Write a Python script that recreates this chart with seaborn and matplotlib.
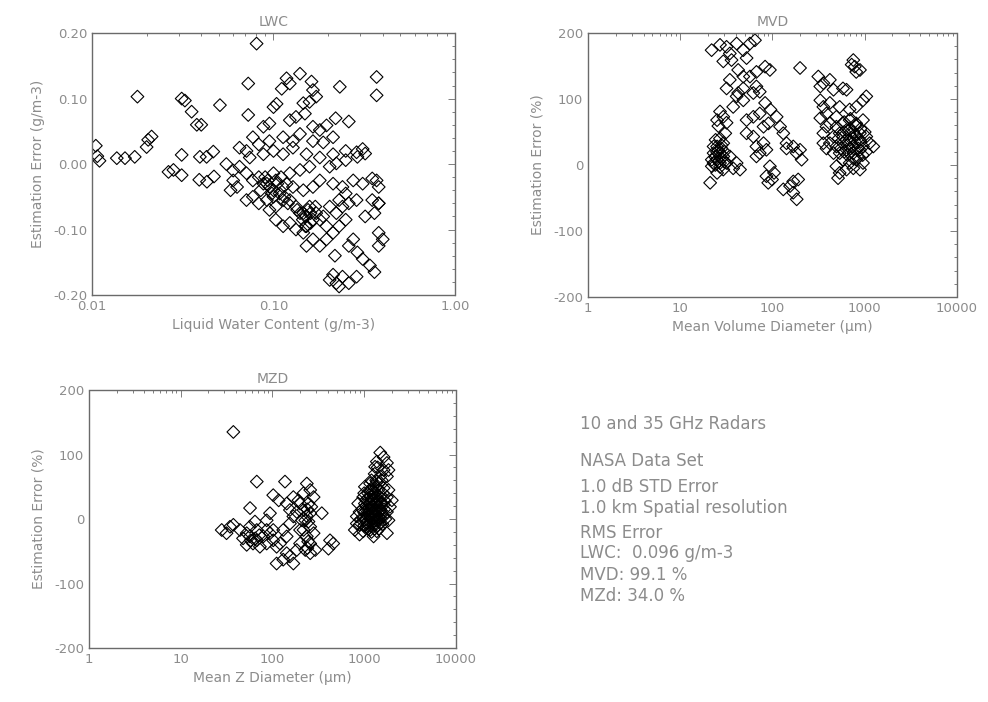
import numpy as np
import pandas as pd
import matplotlib
matplotlib.use("Agg")
import matplotlib.pyplot as plt
import seaborn as sns
from matplotlib.ticker import FixedLocator, AutoMinorLocator, LogLocator, NullFormatter, FuncFormatter

# ---------------- data ----------------
lwc_x = [0.0105, 0.0107, 0.011, 0.0137, 0.0152, 0.0178, 0.0172, 0.020, 0.0213, 0.0204,
         0.0312, 0.0325, 0.0354, 0.0378, 0.040, 0.0507, 0.0726, 0.0726, 0.0807, 0.0312,
         0.0264, 0.0281, 0.0312, 0.0393, 0.0428, 0.0466, 0.039, 0.043, 0.047,
         0.118, 0.140, 0.123, 0.111, 0.100, 0.104, 0.162, 0.165, 0.172, 0.232,
         0.37, 0.37, 0.146, 0.158, 0.095, 0.088, 0.123, 0.133, 0.149, 0.165,
         0.18, 0.196, 0.22, 0.26, 0.077, 0.083, 0.095, 0.113, 0.128, 0.14,
         0.165, 0.188, 0.213, 0.065, 0.071, 0.074, 0.088, 0.10, 0.113, 0.128,
         0.152, 0.18, 0.213, 0.25, 0.287, 0.31,
         0.055, 0.06, 0.065, 0.058, 0.063, 0.06, 0.071, 0.077, 0.083, 0.092,
         0.103, 0.113, 0.10, 0.108, 0.118, 0.10, 0.123, 0.14, 0.158, 0.128,
         0.146, 0.165, 0.18, 0.204, 0.222, 0.25, 0.29, 0.32, 0.213, 0.24,
         0.275, 0.31, 0.35, 0.37, 0.38, 0.25, 0.287, 0.23, 0.35, 0.38,
         0.071, 0.077, 0.083, 0.092, 0.095, 0.103, 0.113, 0.123, 0.133, 0.146,
         0.158, 0.172, 0.18, 0.165, 0.188, 0.204, 0.222, 0.24, 0.26, 0.32,
         0.36, 0.38, 0.103, 0.113, 0.123, 0.133, 0.146, 0.152, 0.196, 0.213,
         0.23, 0.25, 0.165, 0.18, 0.152, 0.196, 0.218, 0.275, 0.26, 0.29,
         0.31, 0.34, 0.36, 0.38, 0.40, 0.38, 0.204, 0.222, 0.24, 0.26,
         0.213, 0.23, 0.287, 0.095, 0.105, 0.098, 0.15, 0.155, 0.145, 0.16,
         0.14, 0.085, 0.09,
         0.093, 0.10, 0.11, 0.115, 0.12, 0.088, 0.135, 0.15, 0.16, 0.17]
lwc_y = [0.028, 0.012, 0.005, 0.009, 0.009, 0.103, 0.011, 0.026, 0.042, 0.037,
         0.100, 0.097, 0.080, 0.060, 0.060, 0.090, 0.123, 0.075, 0.184, 0.014,
         -0.012, -0.009, -0.017, 0.011, 0.011, 0.019, -0.024, -0.027, -0.019,
         0.131, 0.138, 0.123, 0.115, 0.087, 0.092, 0.126, 0.113, 0.103, 0.118,
         0.133, 0.105, 0.093, 0.095, 0.062, 0.057, 0.067, 0.072, 0.077, 0.057,
         0.052, 0.059, 0.070, 0.065, 0.041, 0.030, 0.035, 0.041, 0.035, 0.046,
         0.035, 0.033, 0.041, 0.025, 0.020, 0.010, 0.015, 0.020, 0.015, 0.025,
         0.015, 0.010, 0.015, 0.020, 0.018, 0.023,
         0.000, -0.010, -0.004, -0.040, -0.035, -0.025, -0.014, -0.025, -0.020, -0.030,
         -0.025, -0.035, -0.040, -0.045, -0.030, -0.014, -0.014, -0.009, -0.004, -0.035,
         -0.040, -0.035, -0.025, -0.004, 0.001, 0.006, 0.011, 0.016, -0.030, -0.035,
         -0.025, -0.030, -0.022, -0.025, -0.035, -0.045, -0.055, -0.055, -0.055, -0.060,
         -0.055, -0.050, -0.060, -0.055, -0.070, -0.065, -0.055, -0.055, -0.065, -0.075,
         -0.065, -0.075, -0.085, -0.085, -0.080, -0.065, -0.075, -0.065, -0.060, -0.080,
         -0.075, -0.060, -0.085, -0.095, -0.090, -0.100, -0.105, -0.095, -0.095, -0.105,
         -0.095, -0.085, -0.115, -0.125, -0.125, -0.115, -0.140, -0.115, -0.125, -0.135,
         -0.145, -0.155, -0.165, -0.105, -0.115, -0.125, -0.177, -0.182, -0.172, -0.182,
         -0.169, -0.187, -0.172, -0.035, -0.030, -0.045, -0.080, -0.070, -0.085, -0.090,
         -0.075, -0.040, -0.020,
         -0.025, -0.050, -0.020, -0.050, -0.060, -0.030, -0.070, -0.095, -0.075, -0.065]

mvd_x = [21.9, 27, 31.8, 34.5, 40.9, 48.3, 57, 64.6, 29.3, 36, 52.4, 42.5, 48.3, 57, 67, 67,
         93.8, 83.2, 34.5, 31.8, 40.9, 42.5, 48.3, 62, 72.8, 37.5, 48.3, 27, 25.1, 29.3, 25.9, 31.8,
         30.8, 27, 29.3, 25.1, 23, 27, 29.3, 25.1, 23, 27, 31.8, 22, 25.1, 29.3, 21.1, 34.5,
         40.9, 44.5, 37.5, 28, 24.2, 24, 26, 28, 26, 24, 30,
         22, 27, 30, 25, 23, 28,
         52.4, 62, 72.8, 83.2, 95, 52.4, 62, 80, 90.4, 111, 121, 131, 67, 72.8, 80, 67, 86,
         142, 142, 168, 183, 199, 207, 93.8, 104, 99, 86, 90, 131, 155, 168, 190, 168, 183, 199,
         314, 356, 330, 419, 459, 581, 635, 752, 780, 809, 722, 888, 1040, 958,
         330, 356, 385, 419, 535, 686, 809, 330, 419, 493, 581, 686, 809, 958,
         356, 459, 535, 635, 752, 888, 1040, 419, 493, 581, 686, 809, 958, 1130, 1240,
         356, 385, 535, 635, 752, 888, 1040, 581, 686, 809, 958, 752, 888, 535, 493, 514, 635, 459,
         581, 686, 752, 888, 635, 493, 385,
         520, 600, 700, 800, 900, 550, 650, 750, 850, 950,
         600, 700, 800, 650, 750, 850, 700, 600, 900, 1000]
mvd_y = [174, 182, 179, 169, 184, 174, 184, 189, 157, 159, 162, 144, 134, 134, 141, 119,
         144, 149, 129, 116, 104, 109, 116, 109, 111, 88, 98, 81, 68, 73, 59, 64,
         48, 40, 33, 28, 18, 18, 13, 8, 3, 3, 3, -2, -12, -7, -27, 13,
         3, -7, -5, 25, 38, 12, 5, 10, 22, 0, 20,
         8, -3, 5, 20, 28, 30,
         68, 73, 78, 94, 84, 48, 43, 58, 63, 73, 58, 48, 28, 18, 33, 13, 23,
         33, 25, 28, 18, 23, 8, -2, -12, -22, -17, -27, -37, -32, -25, -22, -42, -52, 147,
         134, 124, 119, 129, 114, 116, 114, 159, 149, 141, 152, 144, 104, 98,
         98, 88, 78, 94, 88, 84, 88, 71, 63, 58, 63, 68, 63, 68,
         48, 43, 48, 53, 50, 48, 43, 33, 28, 33, 38, 33, 28, 33, 28,
         33, 25, 18, 23, 18, 23, 20, 8, 3, 8, 3, -5, -7, -12, -2, -20, -7, 18,
         43, 48, 28, 38, 38, 73, 58,
         40, 50, 55, 45, 35, 25, 30, 40, 25, 15,
         65, 70, 60, 15, 10, 12, 25, 20, 55, 50]

mzd_x = [37.5, 67.5, 137, 102, 117, 57, 94, 86.5, 64.5,
         34.5, 28, 31.6, 37.5, 44.3, 52.4, 47.8, 56.7,
         61.4, 52.4, 67.5, 73, 86.5, 79.5, 94, 102,
         111, 121, 111, 131, 143, 155, 169, 184,
         143, 131, 155, 169, 184, 200, 169, 218, 237,
         258, 281, 247, 218, 258, 228, 258, 218, 237,
         281, 258, 228, 258, 293, 345, 424, 408, 460,
         143, 155, 102, 86.5, 67.5, 56.7, 200, 200,
         210, 247, 265, 192, 65, 72, 58, 240, 245, 235, 240,
         1495, 1627, 1372, 1770, 1316, 1627, 1840, 1495, 1770,
         1372, 1160, 1017, 1200, 1425, 1627, 1840,
         975, 1100, 1265, 1495, 1770, 2000,
         860, 1017, 1160, 1372, 1627, 1910,
         890, 1060, 1265, 1495, 1770,
         830, 975, 1160, 1372, 1627, 1840,
         890, 1060, 1265, 1495,
         975, 1160, 1372, 1770, 890, 1265, 790, 830,
         1265, 1200, 1316, 1100, 1425, 1560, 1060, 1265, 1495,
         1100, 1300, 1200, 1350, 1150, 1250, 1400, 1200, 1300, 1450, 1100, 1000, 1050, 1550, 1350, 1200,
         1050, 1150, 1250, 1350, 1450, 1100, 1200, 1300, 1400, 1500,
         1050, 1150, 1250, 1350, 1450, 1000, 1100, 1200, 1300, 1400,
         1150, 1250, 1350, 1450, 1300, 1400, 1550, 1600, 1650, 1700,
         950, 920, 1000, 1080, 1180, 1280, 1380, 1480, 1580, 1680]
mzd_y = [135, 58, 58, 37, 29, 17, 9, -2, -4,
         -12, -17, -22, -9, -17, -22, -30, -27,
         -38, -40, -33, -43, -38, -27, -22, -33,
         -43, -38, -69, -63, -53, -58, -69, -48,
         -27, -17, -7, 4, 11, 24, 34, 40, 55,
         45, 34, 24, 14, 9, -2, -12, -17, -27,
         -22, -38, -48, -53, -48, 9, -33, -46, -38,
         24, 14, -17, -17, -17, -12, -38, -17,
         -2, -4, 19, 29, -30, -25, -33, -45, -35, 5, 15,
         103, 96, 89, 87, 81, 76, 76, 66, 66,
         58, 55, 50, 45, 45, 48, 45,
         34, 32, 37, 34, 34, 29,
         24, 24, 22, 24, 22, 19,
         11, 14, 11, 14, 11,
         4, 1, 4, 1, 4, -2,
         -9, -12, -9, -7,
         -19, -17, -19, -22, -24, -27, -17, -7,
         29, 17, 6, 9, 19, 9, -5, -5, 1,
         40, 40, 30, 28, 15, 20, 10, 0, -10, -15, -10, 10, 30, 25, 50, 60,
         20, 25, 30, 35, 30, 15, 10, 15, 20, 25,
         0, -5, 0, 5, 0, -10, -15, -20, -15, -10,
         45, 50, 60, 55, 70, 80, 60, 40, 15, 0,
         15, 0, 40, 5, 35, 8, -2, 12, -8, 28]

assert len(lwc_x) == len(lwc_y)
assert len(mvd_x) == len(mvd_y)
assert len(mzd_x) == len(mzd_y)

lwc_df = pd.DataFrame({"x": lwc_x, "y": lwc_y})
mvd_df = pd.DataFrame({"x": mvd_x, "y": mvd_y})
mzd_df = pd.DataFrame({"x": mzd_x, "y": mzd_y})

info_lines = ["10 and 35 GHz Radars", "NASA Data Set", "1.0 dB STD Error",
              "1.0 km Spatial resolution", "RMS Error", "LWC:  0.096 g/m-3",
              "MVD: 99.1 %", "MZd: 34.0 %"]

# ---------------- style ----------------
sns.set_style("white")
plt.rcParams["font.family"] = ["DejaVu Sans"]
TXT = "#8c8c8c"
EDGE = "#6a6a6a"

fig = plt.figure(figsize=(9.88, 7.02), dpi=100)


def style_axes(ax, title, xlabel, ylabel):
    ax.set_title(title, color=TXT, fontsize=10, pad=5)
    ax.set_xlabel(xlabel, color=TXT, fontsize=10, labelpad=4)
    ax.set_ylabel(ylabel, color=TXT, fontsize=10, labelpad=6)
    for sp in ax.spines.values():
        sp.set_visible(True)
        sp.set_color(EDGE)
        sp.set_linewidth(1.0)
        sp.set_linestyle((0, (1, 1)))
    ax.tick_params(which="both", direction="in", top=True, right=True,
                   colors=EDGE, labelcolor=TXT, labelsize=9.5, width=0.6)
    ax.tick_params(which="major", length=5)
    ax.tick_params(which="minor", length=2.5)
    ax.grid(False)


def scatter(ax, df):
    sns.scatterplot(data=df, x="x", y="y", ax=ax, marker="D", s=42,
                    facecolor="none", edgecolor="black", linewidth=0.8, legend=False)


# LWC
ax1 = fig.add_axes([0.0931, 0.5798, 0.3674, 0.373])
scatter(ax1, lwc_df)
ax1.set_xscale("log")
ax1.set_xlim(0.01, 1.0)
ax1.set_ylim(-0.2, 0.2)
ax1.xaxis.set_major_locator(FixedLocator([0.01, 0.1, 1.0]))
ax1.xaxis.set_major_formatter(FuncFormatter(lambda v, p: f"{v:.2f}"))
ax1.xaxis.set_minor_locator(LogLocator(base=10, subs=np.arange(2, 10)))
ax1.xaxis.set_minor_formatter(NullFormatter())
ax1.yaxis.set_major_locator(FixedLocator([-0.2, -0.1, 0.0, 0.1, 0.2]))
ax1.yaxis.set_major_formatter(FuncFormatter(lambda v, p: f"{v:.2f}"))
ax1.yaxis.set_minor_locator(AutoMinorLocator(5))
style_axes(ax1, "LWC", "Liquid Water Content (g/m-3)", "Estimation Error (g/m-3)")

int_fmt = FuncFormatter(lambda v, p: f"{v:.0f}")

# MVD
ax2 = fig.add_axes([0.5951, 0.577, 0.3735, 0.376])
scatter(ax2, mvd_df)
ax2.set_xscale("log")
ax2.set_xlim(1, 10000)
ax2.set_ylim(-200, 200)
ax2.xaxis.set_major_locator(FixedLocator([1, 10, 100, 1000, 10000]))
ax2.xaxis.set_major_formatter(int_fmt)
ax2.xaxis.set_minor_locator(LogLocator(base=10, subs=np.arange(2, 10)))
ax2.xaxis.set_minor_formatter(NullFormatter())
ax2.yaxis.set_major_locator(FixedLocator([-200, -100, 0, 100, 200]))
ax2.yaxis.set_major_formatter(int_fmt)
ax2.yaxis.set_minor_locator(AutoMinorLocator(5))
style_axes(ax2, "MVD", "Mean Volume Diameter (\u03bcm)", "Estimation Error (%)")

# MZD
ax3 = fig.add_axes([0.090, 0.0769, 0.3715, 0.3675])
scatter(ax3, mzd_df)
ax3.set_xscale("log")
ax3.set_xlim(1, 10000)
ax3.set_ylim(-200, 200)
ax3.xaxis.set_major_locator(FixedLocator([1, 10, 100, 1000, 10000]))
ax3.xaxis.set_major_formatter(int_fmt)
ax3.xaxis.set_minor_locator(LogLocator(base=10, subs=np.arange(2, 10)))
ax3.xaxis.set_minor_formatter(NullFormatter())
ax3.yaxis.set_major_locator(FixedLocator([-200, -100, 0, 100, 200]))
ax3.yaxis.set_major_formatter(int_fmt)
ax3.yaxis.set_minor_locator(AutoMinorLocator(5))
style_axes(ax3, "MZD", "Mean Z Diameter (\u03bcm)", "Estimation Error (%)")

# info text block
ys = [0.396, 0.343, 0.306, 0.276, 0.241, 0.212, 0.181, 0.151]
for t, yy in zip(info_lines, ys):
    fig.text(0.587, yy, t, color=TXT, fontsize=12, va="center", ha="left")

fig.savefig("out.png", dpi=100, facecolor="white")
